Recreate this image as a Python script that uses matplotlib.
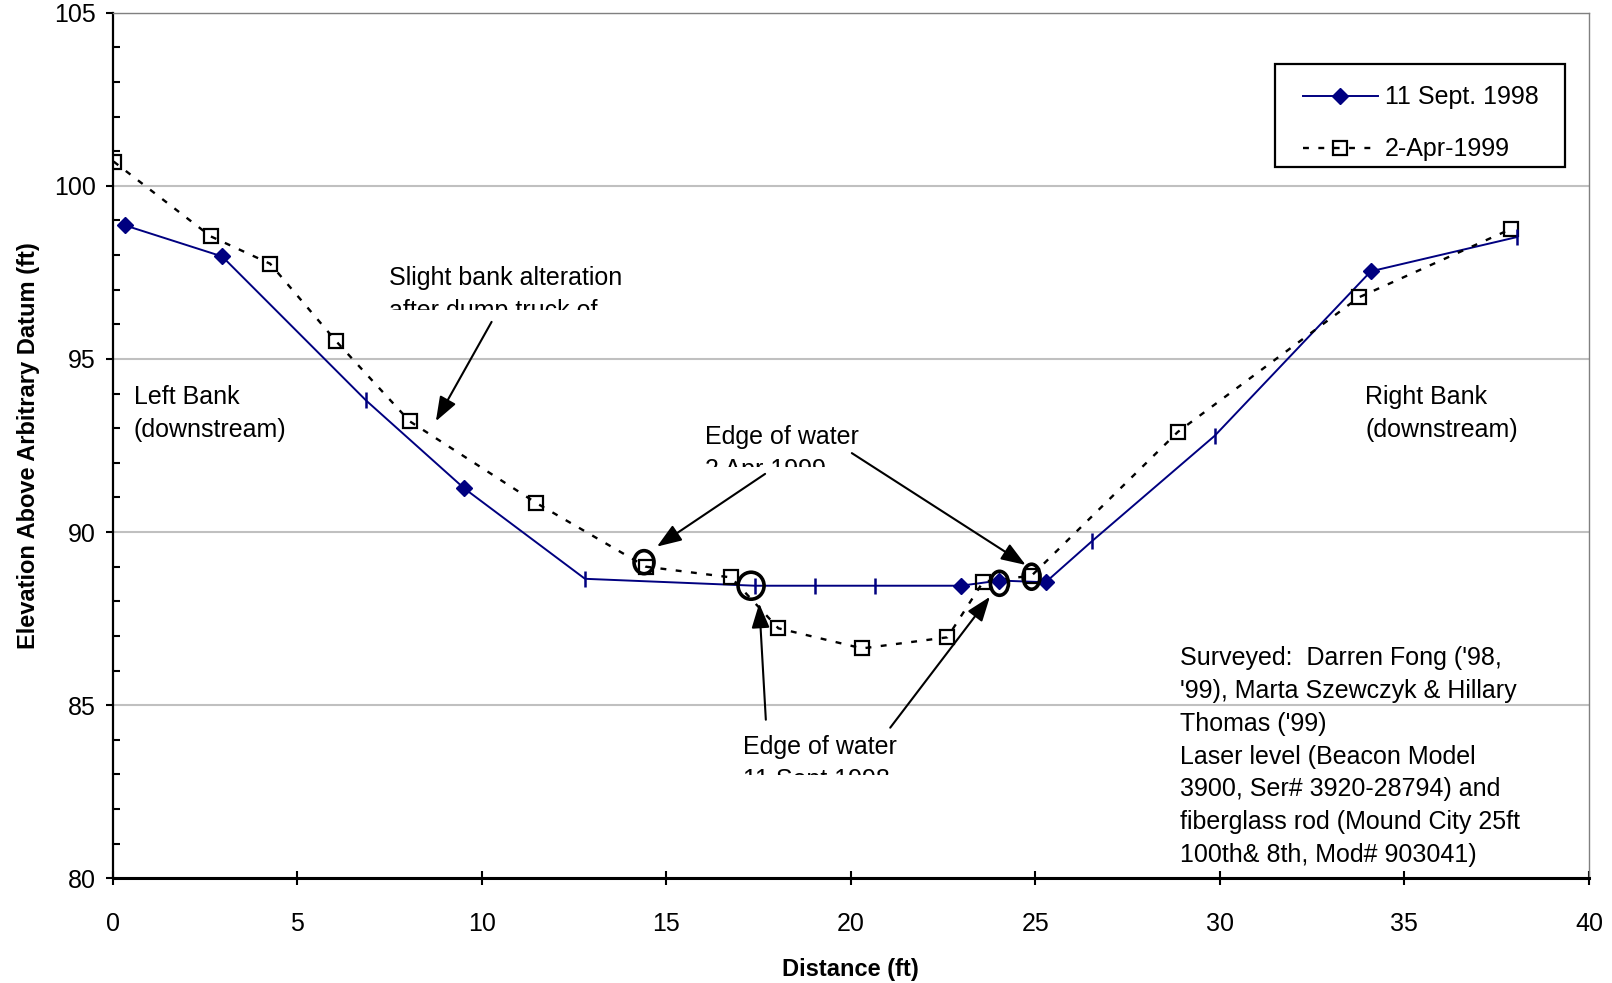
import matplotlib
matplotlib.use("Agg")
import matplotlib.pyplot as plt
from matplotlib.patches import Ellipse, Rectangle

plt.rcParams['font.family'] = ['Liberation Sans', 'DejaVu Sans']

# 11 Sept. 1998 survey
sept_x = [0.33, 2.97, 6.87, 9.53, 12.8, 17.41, 19.03, 20.67, 22.98, 24.03, 25.28, 26.55, 29.86, 34.09, 38.05]
sept_y = [98.86, 97.96, 93.8, 91.26, 88.65, 88.45, 88.45, 88.45, 88.45, 88.6, 88.55, 89.75, 92.78, 97.53, 98.52]
sept_diamond = [0, 1, 3, 8, 9, 10, 13]   # points drawn with a diamond, the rest show as a tick

# 2-Apr-1999 survey
apr_x = [0.03, 2.66, 4.27, 6.06, 8.05, 11.48, 14.45, 16.76, 18.04, 20.31, 22.62, 23.59, 24.9, 28.86, 33.77, 37.88]
apr_y = [100.7, 98.54, 97.75, 95.51, 93.2, 90.84, 89.0, 88.69, 87.22, 86.64, 86.96, 88.57, 88.74, 92.89, 96.78, 98.75]

# circled edge-of-water points
edge_x = [14.4, 17.3, 24.03, 24.9]
edge_y = [89.13, 88.45, 88.52, 88.71]

survey_note = ("Surveyed:  Darren Fong ('98,\n'99), Marta Szewczyk & Hillary\nThomas ('99)\n"
               "Laser level (Beacon Model\n3900, Ser# 3920-28794) and\n"
               "fiberglass rod (Mound City 25ft\n100th& 8th, Mod# 903041)")

fig = plt.figure(figsize=(16.12, 9.83), dpi=100)
ax = fig.add_axes([0.0698, 0.1065, 0.9159, 0.8806])

ax.set_xlim(0, 40)
ax.set_ylim(80, 105)
ax.set_xticks(range(0, 41, 5))
ax.set_yticks(range(80, 106, 5))
ax.set_yticks(range(80, 106), minor=True)
ax.grid(axis='y', which='major', color='#c0c0c0', lw=1.5)
ax.set_axisbelow(True)

for s in ['top', 'right']:
    ax.spines[s].set_color('#808080')
    ax.spines[s].set_linewidth(1)
ax.spines['left'].set_linewidth(1.6)
ax.spines['bottom'].set_linewidth(2.2)

ax.tick_params(axis='y', which='major', direction='out', length=5, width=1.5, labelsize=18, pad=7)
ax.tick_params(axis='y', which='minor', direction='in', length=5, width=1.5)
ax.tick_params(axis='x', which='major', direction='inout', length=10, width=1.5, labelsize=18, pad=19)

ax.set_xlabel('Distance (ft)', fontsize=17, fontweight='bold', labelpad=16)
ax.set_ylabel('Elevation Above Arbitrary Datum (ft)', fontsize=17, fontweight='bold', labelpad=10)

# lines
ax.plot(sept_x, sept_y, color='#000080', lw=1.4, zorder=3)
sept_tick = [i for i in range(len(sept_x)) if i not in sept_diamond]
ax.plot([sept_x[i] for i in sept_diamond], [sept_y[i] for i in sept_diamond], ls='none',
        marker='D', ms=8.5, color='#000080', zorder=4)
ax.plot([sept_x[i] for i in sept_tick], [sept_y[i] for i in sept_tick], ls='none',
        marker='|', ms=11, mew=1.8, color='#000080', zorder=4)
ax.plot(apr_x, apr_y, color='black', lw=1.7, ls=(0, (2.5, 4)), marker='s', ms=9.5,
        mfc='none', mec='black', mew=1.6, zorder=3)

# legend: box drawn by hand, entries placed inside it
ax.add_patch(Rectangle((0.7873, 0.8218), 0.9837 - 0.7873, 0.9407 - 0.8218, transform=ax.transAxes,
                       fill=True, fc='white', ec='black', lw=1.6, zorder=7))
h1, = ax.plot([], [], color='#000080', lw=1.4, marker='D', ms=8.5)
h2, = ax.plot([], [], color='black', lw=1.7, ls=(0, (2.5, 4)), marker='s', ms=9.5, mfc='none', mew=1.6)
leg = ax.legend([h1, h2], ['11 Sept. 1998', '2-Apr-1999'], loc='upper left',
                bbox_to_anchor=(0.806, 0.916), borderaxespad=0, borderpad=0, fontsize=18,
                frameon=False, labelspacing=1.12, handlelength=3.0, handletextpad=0.3,
                numpoints=1)
leg.set_zorder(8)

# circles around edge of water points
sizes = [(20, 23), (26, 27), (18, 24), (17, 25)]
for (cx, cy), (w, h) in zip(zip(edge_x, edge_y), sizes):
    ax.add_patch(Ellipse((cx, cy), w / 36.91, h / 34.62, fill=False, ec='black', lw=2.6, zorder=5))

# texts
fs = 18
ls = 1.46
ax.text(0.57, 94.25, 'Left Bank\n(downstream)', fontsize=fs, va='top', linespacing=ls)
ax.text(33.94, 94.25, 'Right Bank\n(downstream)', fontsize=fs, va='top', linespacing=ls)
ax.text(28.92, 86.7, survey_note, fontsize=fs, va='top', linespacing=ls)

# two-line notes whose second line is cut in half, as in the original sheet
cut_notes = [(7.48, 97.67, 'Slight bank alteration\nafter dump truck of', 96.42, 6.2),
             (16.06, 93.09, 'Edge of water\n2 Apr 1999', 91.87, 3.7),
             (17.09, 84.13, 'Edge of water\n11 Sept 1998', 82.97, 4.4)]
for x, y, s, ycut, w in cut_notes:
    ax.text(x, y, s, fontsize=fs, va='top', linespacing=ls, zorder=5)
    ax.add_patch(Rectangle((x - 0.2, ycut - 1.0), w, 1.0, fc='white', ec='none', zorder=5.5))

# arrows
arrows = [((10.27, 96.07), (8.76, 93.2)),
          ((17.68, 91.68), (14.75, 89.58)),
          ((20.03, 92.28), (24.74, 89.05)),
          ((17.7, 84.58), (17.52, 87.94)),
          ((21.07, 84.35), (23.77, 88.13))]
for start, end in arrows:
    ax.annotate('', xy=end, xytext=start,
                arrowprops=dict(arrowstyle='-|>,head_length=0.6,head_width=0.22', color='black',
                                lw=1.5, mutation_scale=25, shrinkA=0, shrinkB=0), zorder=6)

fig.savefig('out.png', dpi=100)
